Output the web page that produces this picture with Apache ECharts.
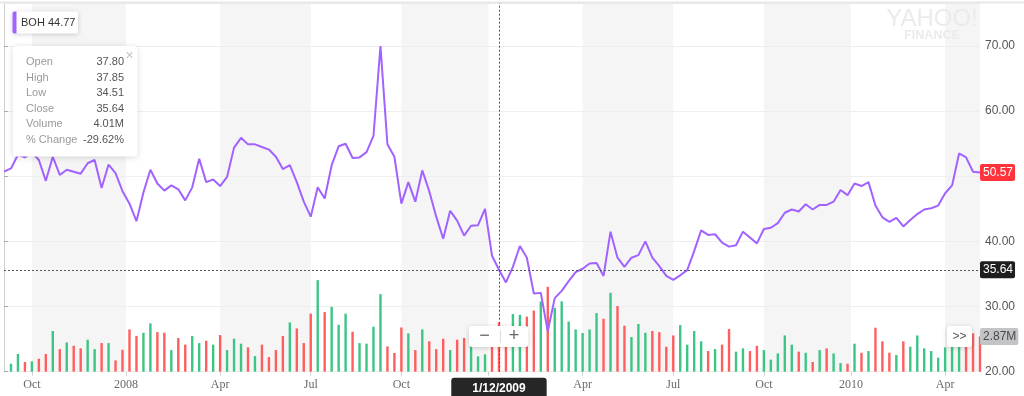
<!DOCTYPE html>
<html><head><meta charset="utf-8">
<script src="https://cdn.jsdelivr.net/npm/echarts@6/dist/echarts.min.js"></script>
<style>html,body{margin:0;padding:0;background:#fff;overflow:hidden}#c{width:1024px;height:396px}</style>
</head><body><div id="c"></div>
<script>
// Weekly closes (index 0 = first week shown)
const closes = [
  50.7, 51.2, 53.3, 52.9, 53.7, 52.5, 49.3, 53.0, 50.2, 51.0,
  50.7, 50.4, 52.0, 52.5, 48.2, 51.8, 50.5, 47.7, 45.8, 43.1,
  47.5, 51.0, 48.9, 47.8, 48.6, 48.0, 46.3, 48.3, 52.7, 49.1,
  49.5, 48.5, 49.9, 54.4, 55.9, 54.9, 54.9, 54.5, 54.1, 53.0,
  51.1, 51.7, 49.1, 46.1, 43.8, 48.3, 46.6, 51.7, 54.6, 55.0,
  52.8, 52.9, 53.7, 56.2, 70.0, 54.9, 53.0, 45.8, 49.1, 46.1,
  50.9, 47.7, 43.8, 40.4, 44.7, 43.2, 40.9, 42.4, 42.5, 45.0,
  37.8, 35.64, 33.7, 36.1, 39.3, 37.5, 32.0, 32.1, 26.2, 31.3,
  32.4, 33.9, 35.3, 35.8, 36.6, 36.7, 34.7, 41.5, 37.5, 36.1,
  37.5, 37.9, 40.0, 37.5, 36.2, 34.7, 34.1, 34.8, 35.6, 38.5,
  41.7, 41.0, 41.1, 39.8, 39.2, 39.4, 41.5, 40.6, 39.7, 41.9,
  42.1, 42.8, 44.4, 44.9, 44.6, 45.7, 44.9, 45.6, 45.6, 46.1,
  47.9, 47.1, 48.9, 48.5, 49.1, 45.5, 43.7, 43.0, 43.6, 42.3,
  43.3, 44.2, 44.9, 45.1, 45.5, 47.4, 48.6, 53.5, 52.9, 50.7,
  50.57
];
// Weekly volume, millions
const volumes = [
  null, 0.65, 1.44, 0.79, 0.84, 1.06, 1.44, 3.31, 1.84, 2.38,
  2.11, 1.90, 2.60, 1.84, 2.33, 2.33, 0.92, 1.79, 3.44, 2.90,
  3.17, 3.93, 3.22, 3.17, 1.76, 2.74, 2.20, 2.90, 2.33, 2.52,
  2.20, 2.98, 1.76, 2.68, 2.28, 1.98, 1.27, 2.20, 1.19, 1.76,
  2.90, 4.01, 3.52, 2.33, 4.72, 7.45, 4.85, 5.28, 3.82, 4.72,
  3.25, 2.33, 2.28, 3.66, 6.31, 2.06, 1.52, 3.60, 3.12, 1.76,
  3.44, 2.47, 1.84, 2.68, 1.76, 2.60, 2.74, 2.20, 1.25, 1.41,
  2.80, 4.01, 3.00, 4.70, 4.63, 4.48, 4.97, 5.72, 6.91, 5.20,
  5.72, 4.07, 3.44, 3.15, 3.44, 4.77, 4.31, 6.42, 5.34, 3.74,
  2.82, 3.88, 3.17, 3.31, 3.22, 2.03, 2.95, 3.79, 2.20, 3.31,
  2.47, 1.68, 1.84, 2.20, 3.47, 1.63, 1.90, 1.68, 2.11, 1.76,
  0.98, 1.49, 2.95, 2.20, 1.63, 1.54, 0.79, 1.76, 1.90, 1.49,
  0.70, 0.65, 2.28, 1.54, 1.68, 3.58, 2.47, 1.54, 1.36, 2.47,
  2.03, 2.95, 1.90, 1.68, 1.14, 1.98, 2.60, 2.70, 3.00, 3.12,
  2.87
];
// g = up week, r = down week
const volumeDirection = [
  '', 'g','g','r','g','r','r','g','r','g',
  'r','r','g','g','r','g','r','r','r','r',
  'g','g','r','r','g','r','r','g','g','r',
  'g','r','g','g','g','r','g','r','r','r',
  'r','g','r','r','r','g','r','g','g','g',
  'r','g','g','g','g','r','r','r','g','r',
  'g','r','r','r','g','r','r','g','g','g',
  'r','r','r','g','g','r','r','g','r','g',
  'g','g','g','g','g','g','r','g','r','r',
  'g','g','g','r','r','r','r','g','g','g',
  'g','r','g','r','r','g','g','r','r','g',
  'g','g','g','g','r','g','r','g','r','g',
  'g','r','g','r','g','r','r','r','g','r',
  'g','g','g','g','g','g','g','g','r','r',
  'r'
];
const tickWeeks  = [4, 17.5, 31, 44, 57, 69.5, 83, 96, 109, 121.5, 135];
const tickLabels = ['Oct', '2008', 'Apr', 'Jul', 'Oct', '2009', 'Apr', 'Jul', 'Oct', '2010', 'Apr'];
const shadedQuarters = [[4, 17.5], [31, 44], [57, 69.5], [83, 96], [109, 121.5], [135, 140]];
const crossWeek = 71, crossDate = '1/12/2009', crossClose = 35.64;
const lastClose = 50.57, lastVolume = 2.87;
const symbolName = 'BOH', symbolPrice = '44.77';
const tooltipLabels = ['Open', 'High', 'Low', 'Close', 'Volume', '% Change'];
const tooltipValues = ['37.80', '37.85', '34.51', '35.64', '4.01M', '-29.62%'];

const PURPLE = '#a262ff', GREEN = '#3dc585', RED = '#ff5e5e';
const SANS = "'Helvetica Neue', Helvetica, 'Liberation Sans', Arial, sans-serif";
const CLEAR = 'rgba(0,0,0,0)';

const lineData = closes.map((v, i) => [i, v]);
const barData = [];
volumes.forEach((v, i) => {
  if (v != null) barData.push({ value: [i, v], itemStyle: { color: volumeDirection[i] === 'g' ? GREEN : RED } });
});

const chart = echarts.init(document.getElementById('c'), null, { renderer: 'canvas' });

const graphics = [];
// top border
graphics.push({ type: 'rect', shape: { x: 0, y: 1.5, width: 1024, height: 2 }, style: { fill: '#e7e7e7' }, z: 100, silent: true });
// watermark
graphics.push({ type: 'text', x: 932, y: 19, z: 100, style: { text: 'YAHOO!', fill: '#ebebeb', font: "24px 'Liberation Sans Narrow', 'Liberation Sans', sans-serif", align: 'center', verticalAlign: 'middle' } });
graphics.push({ type: 'text', x: 932, y: 36, z: 100, style: { text: 'FINANCE', fill: '#ebebeb', font: "bold 12.5px " + SANS, align: 'center', verticalAlign: 'middle' } });
// legend chip
graphics.push({ type: 'rect', shape: { x: 12.5, y: 11.5, width: 65.5, height: 22, r: 2 }, style: { fill: '#fff', shadowBlur: 5, shadowColor: 'rgba(0,0,0,0.18)', shadowOffsetY: 1 }, z: 100 });
graphics.push({ type: 'rect', shape: { x: 12.5, y: 11.5, width: 4, height: 22, r: [2, 0, 0, 2] }, style: { fill: PURPLE }, z: 101 });
graphics.push({ type: 'text', x: 21, y: 22.7, z: 101, style: { text: symbolName + ' ' + symbolPrice, fill: '#333', font: '11px ' + SANS, verticalAlign: 'middle' } });
// tooltip panel
graphics.push({ type: 'rect', shape: { x: 13, y: 46, width: 124.5, height: 110.5, r: 3 }, style: { fill: '#fff', shadowBlur: 6, shadowColor: 'rgba(0,0,0,0.15)', shadowOffsetY: 1 }, z: 100 });
graphics.push({ type: 'text', x: 129.5, y: 56, z: 101, style: { text: '×', fill: '#c4c4c4', font: '14px ' + SANS, align: 'center', verticalAlign: 'middle' } });
tooltipLabels.forEach((t, k) => {
  const y = 62.3 + k * 15.48;
  graphics.push({ type: 'text', x: 26, y, z: 101, style: { text: t, fill: '#9a9a9a', font: '11px ' + SANS, verticalAlign: 'middle' } });
  graphics.push({ type: 'text', x: 124, y, z: 101, style: { text: tooltipValues[k], fill: '#555', font: '11px ' + SANS, align: 'right', verticalAlign: 'middle' } });
});
// zoom buttons
graphics.push({ type: 'rect', shape: { x: 469, y: 326, width: 59.5, height: 21, r: 3 }, style: { fill: '#fff', shadowBlur: 5, shadowColor: 'rgba(0,0,0,0.18)', shadowOffsetY: 1 }, z: 100 });
graphics.push({ type: 'line', shape: { x1: 500.5, y1: 330, x2: 500.5, y2: 343 }, style: { stroke: '#ddd', lineWidth: 1 }, z: 101 });
graphics.push({ type: 'text', x: 484.5, y: 336.5, z: 101, style: { text: '−', fill: '#666', font: '18px ' + SANS, align: 'center', verticalAlign: 'middle' } });
graphics.push({ type: 'text', x: 514, y: 336.5, z: 101, style: { text: '+', fill: '#666', font: '18px ' + SANS, align: 'center', verticalAlign: 'middle' } });
graphics.push({ type: 'rect', shape: { x: 947, y: 326, width: 25, height: 21, r: 3 }, style: { fill: '#fff', shadowBlur: 5, shadowColor: 'rgba(0,0,0,0.18)', shadowOffsetY: 1 }, z: 100 });
graphics.push({ type: 'text', x: 959.5, y: 336.5, z: 101, style: { text: '>>', fill: '#555', font: '12px ' + SANS, align: 'center', verticalAlign: 'middle' } });

const priceTag = (text, bg, fg) => ({
  show: true, position: 'end', distance: 0, formatter: text,
  backgroundColor: bg, color: fg, padding: [3, 2, 2, 3], borderRadius: 2,
  fontFamily: SANS, fontSize: 12, lineHeight: 12, opacity: 1
});

chart.setOption({
  animation: false,
  backgroundColor: '#fff',
  grid: { left: 4, right: 44, top: 3, bottom: 24.3, containLabel: false, outerBoundsMode: 'none' },
  xAxis: {
    type: 'value', min: 0, max: 140,
    axisLine: { show: true, lineStyle: { color: '#cfcfcf' } },
    axisTick: { show: true, customValues: tickWeeks, length: 4, lineStyle: { color: '#cfcfcf' } },
    axisLabel: {
      customValues: tickWeeks,
      formatter: v => { const k = tickWeeks.indexOf(v); return k >= 0 ? tickLabels[k] : ''; },
      color: '#6a6a6a', fontFamily: "'Liberation Serif', 'Times New Roman', serif", fontSize: 12, margin: 7
    },
    splitLine: { show: false }
  },
  yAxis: [
    {
      type: 'value', position: 'right', min: 20, max: 76.6, interval: 10, z: 1.5,
      axisLine: { show: true, lineStyle: { color: '#cfcfcf' } },
      axisTick: { show: true, length: 4, lineStyle: { color: '#aaa' } },
      axisLabel: {
        showMaxLabel: false,
        formatter: v => (Math.abs(v % 10) < 1e-6 ? v.toFixed(2) : ''),
        color: '#555', fontFamily: SANS, fontSize: 12, margin: 5
      },
      splitLine: { show: true, lineStyle: { color: '#eeeeee', width: 1 } }
    },
    { type: 'value', min: 0, max: 30, show: false }
  ],
  series: [
    {
      type: 'bar', yAxisIndex: 1, data: barData, barWidth: 2.4, z: 2, silent: true,
      markArea: {
        silent: true,
        itemStyle: { color: '#f5f5f5' },
        data: shadedQuarters.map(([a, b]) => [{ xAxis: a }, { xAxis: b }])
      },
      markLine: {
        silent: true, symbol: ['none', 'none'],
        lineStyle: { color: CLEAR, width: 1 },
        data: [{ yAxis: lastVolume, label: priceTag(lastVolume.toFixed(2) + 'M', '#c3c4c8', '#4a4a4a') }]
      }
    },
    {
      type: 'line', yAxisIndex: 0, data: lineData, showSymbol: false, z: 3, silent: true,
      lineStyle: { color: PURPLE, width: 2 }, itemStyle: { color: PURPLE },
      markLine: {
        silent: true, symbol: ['none', 'none'],
        data: [
          { yAxis: lastClose, lineStyle: { color: CLEAR, width: 1 }, label: priceTag(lastClose.toFixed(2), '#ff333b', '#fff') },
          { yAxis: crossClose, lineStyle: { color: '#555', type: [2, 2], width: 1 }, label: priceTag(crossClose.toFixed(2), '#1e1e1e', '#fff') },
          {
            xAxis: crossWeek, lineStyle: { color: '#555', type: [2, 2], width: 1 },
            label: {
              show: true, position: 'start', distance: 6, formatter: crossDate,
              backgroundColor: '#262626', color: '#fff', padding: [4, 21, 6, 21], borderRadius: 3,
              fontFamily: SANS, fontWeight: 'bold', fontSize: 12, lineHeight: 14
            }
          }
        ]
      }
    }
  ],
  graphic: graphics
});
</script>
</body></html>
